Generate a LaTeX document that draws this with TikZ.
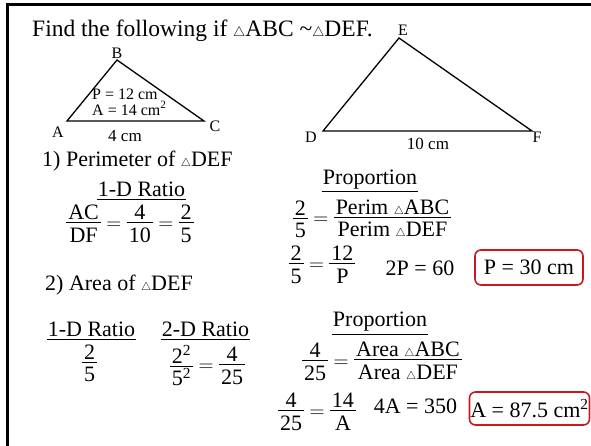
\documentclass[tikz,border=0pt]{standalone}
\usepackage{fontspec}
\setmainfont{Liberation Serif}
\usepackage{amsmath}
\usepackage{graphicx}
\usetikzlibrary{positioning}
\definecolor{ansred}{RGB}{200,25,30}
\setlength{\arrayrulewidth}{0.9pt}
\newcommand{\tri}{\scalebox{0.55}{$\triangle$}}
\newcommand{\fr}[2]{{\renewcommand{\arraystretch}{0}%
  \begin{tabular}[c]{@{\hspace{2pt}}c@{\hspace{2pt}}}\rule[-2.5pt]{0pt}{0pt}#1\\\hline\rule{0pt}{19pt}#2\end{tabular}}}

\begin{document}
\begin{tikzpicture}[x=1pt,y=-1pt,
  txt/.style={inner sep=0pt, font=\fontsize{22}{26}\selectfont},
  lbl/.style={inner sep=0pt, font=\fontsize{16}{18}\selectfont},
  vtx/.style={inner sep=0pt, font=\fontsize{16}{18}\selectfont},
  hdr/.style={txt, inner xsep=1pt, inner ysep=2.5pt},
  eqn/.style={txt, anchor=base},
  ans/.style={txt, draw=ansred, line width=1.6pt, rounded corners=6pt},
  bar/.style={line width=0.9pt},
  side/.style={line width=1.3pt, line join=miter},
  frame/.style={line width=3pt}
]
\useasboundingbox (0,0) rectangle (591,445);
\coordinate (fl) at (7.5,446);
\coordinate (fr) at (592,4.5);
\draw[frame] (fl) |- (fr);

\node[txt, font=\fontsize{23.5}{28}\selectfont, anchor=base west] (title) at (32,36) {Find the following if \tri ABC \textasciitilde\tri DEF.};

\coordinate (A) at (67,121);
\coordinate (B) at (117,60);
\coordinate (C) at (204,121);
\draw[side] (A) -- (B) -- (C) -- cycle;
\node[vtx] (lA) at (58,132) {A};
\node[vtx] (lB) at (117,53) {B};
\node[vtx] (lC) at (215,126) {C};
\node[lbl, anchor=base west] (perABC) at (92,99.5) {P = 12 cm};
\node[lbl, anchor=base west] (areaABC) at (92,115) {A = 14 cm\textsuperscript{2}};
\node[lbl, font=\fontsize{17}{19}\selectfont] (sAC) at (125,136.3) {4 cm};

\coordinate (D) at (323,131);
\coordinate (E) at (399,38);
\coordinate (F) at (532,131);
\draw[side] (D) -- (E) -- (F) -- cycle;
\node[vtx] (lD) at (311,137) {D};
\node[vtx] (lE) at (403,30) {E};
\node[vtx] (lF) at (537,137) {F};
\node[lbl, font=\fontsize{17}{19}\selectfont] (sDF) at (428,144) {10 cm};

\node[txt, anchor=base west] (perim) at (42,166.5) {1) Perimeter of \tri DEF};
\node[hdr, anchor=base] (hdA) at (141.5,196.7) {1-D Ratio};
\draw[bar] (hdA.south west) -- (hdA.south east);
\node[eqn] (eqA) at (130,229) {\fr{AC}{DF} $=$ \fr{4}{10} $=$ \fr{2}{5}};

\node[hdr, anchor=base] (hdB) at (370,184) {Proportion};
\draw[bar] (hdB.south west) -- (hdB.south east);
\node[eqn] (eqB) at (372,224.5) {\fr{2}{5} $=$ \fr{Perim \tri ABC}{Perim \tri DEF}};
\node[eqn] (eqC) at (322,270) {\fr{2}{5} $=$ \fr{12}{P}};
\node[txt, anchor=base] (solP) at (420,275) {2P = 60};
\node[ans, minimum width=108, minimum height=35] (ansP) at (529,267.5) {P = 30 cm};

\node[txt, anchor=base west] (area) at (45,290) {2) Area of \tri DEF};
\node[hdr, anchor=base] (hdC) at (91.5,336.7) {1-D Ratio};
\draw[bar] (hdC.south west) -- (hdC.south east);
\node[eqn] (eqD) at (89.5,368.3) {\fr{2}{5}};
\node[hdr, anchor=base] (hdD) at (205.5,336.7) {2-D Ratio};
\draw[bar] (hdD.south west) -- (hdD.south east);
\node[eqn] (eqE) at (207.5,371) {\fr{2\textsuperscript{2}}{5\textsuperscript{2}} $=$ \fr{4}{25}};

\node[hdr, anchor=base] (hdE) at (380,326.7) {Proportion};
\draw[bar] (hdE.south west) -- (hdE.south east);
\node[eqn] (eqF) at (382,367) {\fr{4}{25} $=$ \fr{Area \tri ABC}{Area \tri DEF}};
\node[eqn] (eqG) at (317,417) {\fr{4}{25} $=$ \fr{14}{A}};
\node[txt, anchor=base] (solA) at (415.5,413) {4A = 350};
\node[ans, minimum width=120, minimum height=33] (ansA) at (529.5,408.5) {A = 87.5 cm\textsuperscript{2}};
\end{tikzpicture}
\end{document}
